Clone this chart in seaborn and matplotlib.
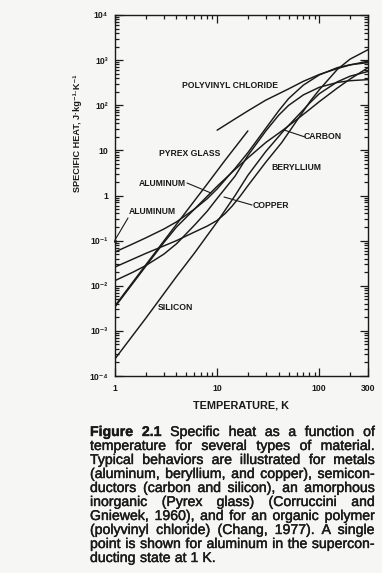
import numpy as np
import pandas as pd
import matplotlib
matplotlib.use("Agg")
import matplotlib.pyplot as plt
import matplotlib.patheffects as pe
import seaborn as sns

# Specific heat (J kg^-1 K^-1) against temperature (K)
al_T = [1, 1.5, 2, 3, 4, 6, 8, 10, 15, 20, 30, 40, 50, 70, 100, 150, 200, 300]
al_C = [0.056, 0.085, 0.115, 0.18, 0.26, 0.5, 0.85, 1.4, 4.0, 8.9, 31, 75, 140, 280, 470, 680, 790, 880]

cu_T = [1, 1.5, 2, 3, 4, 6, 8, 10, 15, 20, 30, 40, 50, 70, 100, 150, 200, 300]
cu_C = [0.013, 0.02, 0.028, 0.05, 0.085, 0.22, 0.45, 0.86, 2.7, 7.7, 27, 60, 99, 170, 250, 320, 350, 370]

be_T = [1, 2, 4, 6, 8, 10, 12, 14, 17, 20, 30, 43, 60, 82, 100, 150, 200, 300]
be_C = [0.026, 0.052, 0.10, 0.155, 0.21, 0.28, 0.40, 0.58, 1.0, 1.65, 5.5, 15, 45, 125, 220, 620, 1050, 1700]

si_T = [1, 2, 4, 6, 8, 10, 15, 20, 30, 44, 60, 80, 100, 150, 200, 300]
si_C = [2.4e-4, 1.9e-3, 0.016, 0.053, 0.13, 0.26, 1.0, 2.8, 9.5, 26, 55, 110, 180, 330, 440, 560]

c_T = [1, 2, 3, 4, 6, 10, 15, 20, 30, 44, 60, 80, 100, 150, 200, 300]
c_C = [0.0034, 0.027, 0.09, 0.2, 0.5, 1.6, 3.8, 6.8, 15, 28, 48, 80, 120, 240, 380, 680]

pyrex_T = [1, 2, 4, 8, 12, 20]
pyrex_C = [0.0036, 0.029, 0.23, 1.8, 6.1, 27]

pvc_T = [10, 15, 20, 30, 50, 70, 100, 150, 200, 300]
pvc_C = [28, 50, 75, 130, 230, 340, 480, 650, 780, 950]

# superconducting aluminium at 1 K
al_sc_T = [1]
al_sc_C = [0.1]

x_ticks = [1, 10, 100, 300]
x_ticklabels = ["1", "10", "100", "300"]
y_ticks = [1e-4, 1e-3, 1e-2, 1e-1, 1, 10, 1e2, 1e3, 1e4]
y_ticklabels = ["10\u207b\u2074", "10\u207b\u00b3", "10\u207b\u00b2", "10\u207b\u00b9",
                "1", "10", "10\u00b2", "10\u00b3", "10\u2074"]

caption_head = ["Figure", "2.1"]
caption_first = "Specific heat as a function of"
caption_lines = [
    "temperature for several types of material.",
    "Typical behaviors are illustrated for metals",
    "(aluminum, beryllium, and copper), semicon-",
    "ductors (carbon and silicon), an amorphous",
    "inorganic (Pyrex glass) (Corruccini and",
    "Gniewek, 1960), and for an organic polymer",
    "(polyvinyl chloride) (Chang, 1977). A single",
    "point is shown for aluminum in the supercon-",
    "ducting state at 1 K.",
]

frames = []
for name, T, C in [("Al", al_T, al_C), ("Cu", cu_T, cu_C), ("Be", be_T, be_C),
                   ("Si", si_T, si_C), ("C", c_T, c_C), ("Pyrex", pyrex_T, pyrex_C),
                   ("PVC", pvc_T, pvc_C)]:
    frames.append(pd.DataFrame({"material": name, "T": T, "C": C}))
df = pd.concat(frames, ignore_index=True)

sns.set_theme(style="ticks")
FAM = ["Liberation Sans", "DejaVu Sans"]
plt.rcParams["font.family"] = FAM
BG = "#f6f6f4"
INK = "#1a1a1a"
heavy = [pe.withStroke(linewidth=0.3, foreground=INK)]

W, H = 382, 573
fig = plt.figure(figsize=(W / 100, H / 100), dpi=100, facecolor=BG)
L, R, T_, B = 115, 368, 15, 376
ax = fig.add_axes([L / W, 1 - B / H, (R - L) / W, (B - T_) / H])
ax.set_facecolor(BG)

for name in df["material"].unique():
    sub = df[df["material"] == name]
    sns.lineplot(data=sub, x="T", y="C", ax=ax, color=INK, lw=1.05,
                 sort=False, estimator=None, legend=False)
sns.scatterplot(x=al_sc_T, y=al_sc_C, ax=ax, color=INK, s=5, linewidth=0,
                zorder=5, clip_on=False, legend=False)

ax.set_xscale("log")
ax.set_yscale("log")
ax.set_xlim(1, 300)
ax.set_ylim(1e-4, 1e4)
ax.set_xticks(x_ticks)
ax.set_xticklabels(x_ticklabels)
ax.set_yticks(y_ticks)
ax.set_yticklabels(y_ticklabels)
ax.xaxis.set_minor_locator(matplotlib.ticker.LogLocator(base=10, subs=np.arange(2, 10), numticks=20))
ax.yaxis.set_minor_locator(matplotlib.ticker.LogLocator(base=10, subs=np.arange(2, 10), numticks=20))
ax.xaxis.set_minor_formatter(matplotlib.ticker.NullFormatter())
ax.yaxis.set_minor_formatter(matplotlib.ticker.NullFormatter())
ax.tick_params(which="both", direction="in", top=True, right=True, color=INK, width=0.9)
ax.tick_params(which="major", length=6)
ax.tick_params(which="minor", length=3)
ax.tick_params(axis="x", which="major", pad=6)
ax.tick_params(axis="y", which="major", pad=5)
for lab in ax.get_xticklabels() + ax.get_yticklabels():
    lab.set_fontsize(6.2)
    lab.set_fontweight("bold")
    lab.set_color(INK)
for s in ax.spines.values():
    s.set_color(INK)
    s.set_linewidth(1.0)
ax.set_xlabel("")
ax.set_ylabel("")


def px(x, y):
    return x / W, 1 - y / H


lab_kw = dict(fontsize=6.2, fontweight="bold", color=INK, family=FAM)
fig.text(*px(230, 85), "POLYVINYL CHLORIDE", ha="center", va="center", **lab_kw)
fig.text(*px(190, 154), "PYREX GLASS", ha="center", va="center", **lab_kw)
fig.text(*px(162, 183), "ALUMINUM", ha="center", va="center", **lab_kw)
fig.text(*px(152, 212), "ALUMINUM", ha="center", va="center", **lab_kw)
fig.text(*px(271, 205), "COPPER", ha="center", va="center", **lab_kw)
fig.text(*px(323, 137), "CARBON", ha="center", va="center", **lab_kw)
fig.text(*px(296, 168), "BERYLLIUM", ha="center", va="center", **lab_kw)
fig.text(*px(175, 307), "SILICON", ha="center", va="center", **lab_kw)

# leader lines from labels to curves (figure pixel coordinates)
leaders = [((187, 183), (211, 193)), ((128, 218), (115, 240)),
           ((252, 205), (224, 197)), ((305, 137), (284, 130))]
for (x0, y0), (x1, y1) in leaders:
    fig.add_artist(matplotlib.lines.Line2D([x0 / W, x1 / W], [1 - y0 / H, 1 - y1 / H],
                                           color=INK, lw=0.8))

fig.text(*px(77, 133), "SPECIFIC HEAT, J\u00b7kg\u207b\u00b9\u00b7K\u207b\u00b9", rotation=90,
         ha="center", va="center", fontsize=6.6, fontweight="bold", color=INK, family=FAM)
fig.text(*px(241, 405), "TEMPERATURE, K", ha="center", va="center",
         fontsize=7.8, fontweight="bold", color=INK, family=FAM)

# justified caption
renderer = fig.canvas.get_renderer()
CAP_L, CAP_R = 90, 375


def width_of(s, fs, weight="normal"):
    t = fig.text(0, 0, s, fontsize=fs, fontweight=weight, family=FAM)
    w = t.get_window_extent(renderer).width
    t.remove()
    return w


# choose the size so the widest justified line fits with ordinary spacing
widest = max(width_of(s, 10) for s in caption_lines[:-1])
cap_fs = 10 * (CAP_R - CAP_L) / widest * 0.985


def place_line(words, y, justify=True, weights=None):
    weights = weights or ["normal"] * len(words)
    ws = [width_of(w, cap_fs, wt) for w, wt in zip(words, weights)]
    space = width_of("a b", cap_fs) - width_of("ab", cap_fs)
    if justify and len(words) > 1:
        gap = (CAP_R - CAP_L - sum(ws)) / (len(words) - 1)
    else:
        gap = space
    x = CAP_L
    for w, wt, wd in zip(words, weights, ws):
        fig.text(x / W, 1 - y / H, w, fontsize=cap_fs, fontweight=wt, family=FAM,
                 color=INK, va="baseline", path_effects=heavy)
        x += wd + gap


base0 = 436
first = caption_head + caption_first.split(" ")
place_line(first, base0, weights=["bold", "bold"] + ["normal"] * (len(first) - 2))
for i, line in enumerate(caption_lines):
    place_line(line.split(" "), base0 + 14 * (i + 1), justify=(i < len(caption_lines) - 1))

fig.savefig("out.png", dpi=100, facecolor=BG)
